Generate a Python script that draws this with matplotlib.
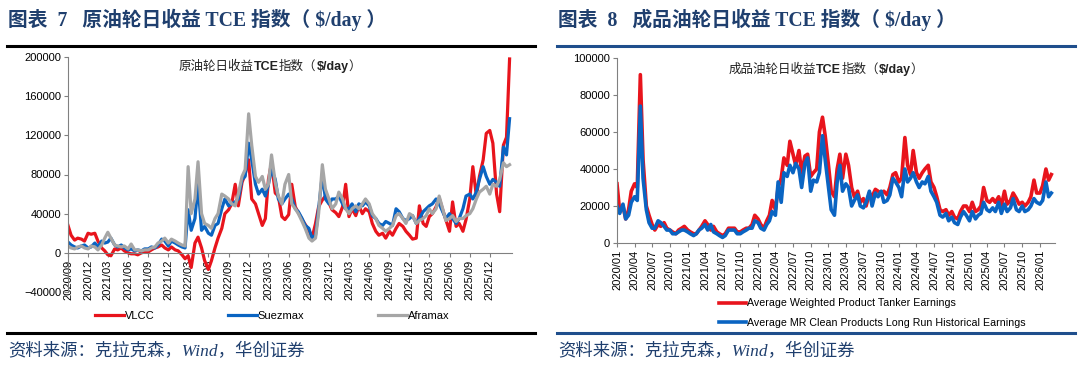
import numpy as np
import pandas as pd
import matplotlib
matplotlib.use('Agg')
import matplotlib.pyplot as plt
import matplotlib.dates as mdates
from matplotlib.lines import Line2D

plt.rcParams['font.family'] = ['Liberation Sans', 'Noto Sans CJK SC']

# ---------------- data (k$/day, semi-monthly: 1st and 15th) ----------------
crude_start, crude_end = '2020-09-01', '2026-03-01'
vlcc = ([28, 18, 13, 15, 14, 12, 20, 19] +
        [20, 12, 5, 2, -2, -3, 4, 3, 5, 2, 0, -1, -1, -2, 0, 1, 1, 3, 5, 6, 8, 5, 3, 6] +
        [3, 2, -2, -6, -3, -15, 10, 16, 5, -8, -17, -8, 5, 15, 25, 40, 44, 50, 70, 48, 72, 80, 95, 55] +
        [50, 40, 28, 35, 75, 92, 61, 58, 37, 34, 39, 70, 47, 41, 34, 29, 23, 15, 30, 47, 54, 58, 51, 44] +
        [41, 37, 47, 70, 37, 45, 38, 48, 40, 45, 42, 30, 22, 18, 20, 15, 22, 18, 25, 30, 27, 22, 18, 14] +
        [15, 48, 30, 27, 37, 40, 47, 56, 44, 34, 22, 52, 27, 30, 22, 34, 55, 88, 58, 78, 95, 122, 125, 112] +
        [60, 42, 110, 118, 198])
suezmax = ([11, 8, 6, 5, 7, 8, 5, 6] +
           [10, 6, 12, 10, 11, 15, 8, 6, 8, 5, 3, 4, 2, 3, 2, 4, 4, 6, 5, 8, 14, 12, 7, 12] +
           [10, 8, 6, 5, 44, 23, 35, 70, 23, 27, 20, 18, 28, 30, 45, 55, 48, 50, 52, 55, 75, 78, 112, 95] +
           [70, 60, 65, 58, 70, 85, 75, 55, 50, 55, 60, 55, 45, 42, 35, 28, 25, 15, 18, 45, 80, 55, 50, 55] +
           [55, 58, 50, 45, 45, 50, 42, 50, 48, 52, 48, 38, 35, 30, 28, 32, 30, 28, 45, 42, 35, 33, 35, 38] +
           [30, 35, 42, 45, 48, 50, 55, 50, 42, 35, 40, 35, 30, 35, 45, 58, 60, 55, 62, 75, 88, 78, 70, 75] +
           [72, 68, 108, 100, 137])
aframax = ([7, 5, 4, 6, 7, 5, 4, 7] +
           [6, 3, 8, 15, 21, 15, 8, 7, 6, 7, 4, 9, 3, 3, 2, 3, 3, 5, 6, 10, 12, 15, 10, 14] +
           [12, 10, 8, 7, 88, 40, 55, 93, 40, 30, 28, 25, 35, 40, 60, 58, 55, 50, 48, 60, 78, 85, 142, 110] +
           [78, 72, 78, 65, 70, 100, 72, 58, 50, 70, 80, 50, 45, 40, 32, 25, 15, 12, 15, 40, 90, 65, 55, 45] +
           [50, 62, 55, 45, 40, 45, 48, 45, 50, 55, 50, 40, 35, 28, 25, 22, 25, 28, 38, 40, 35, 30, 40, 38] +
           [30, 33, 35, 38, 45, 40, 45, 58, 45, 33, 35, 38, 32, 35, 35, 38, 40, 45, 55, 62, 65, 68, 60, 70] +
           [68, 75, 92, 88, 90])

product_start, product_end = '2020-01-01', '2026-03-01'
product_avg = ([32, 17, 20, 13, 18, 28, 32, 30, 91, 45, 20, 15, 10, 7, 10, 9, 11, 8, 7, 6, 5, 7, 8, 9] +
               [7, 6, 5, 5, 7, 9, 12, 10, 7, 9, 6, 5, 4, 5, 8, 8, 8, 6, 6, 7, 8, 8, 10, 15] +
               [13, 10, 8, 12, 15, 23, 18, 30, 35, 46, 42, 55, 48, 42, 50, 38, 47, 48, 36, 38, 40, 60, 68, 58] +
               [42, 28, 25, 40, 48, 35, 48, 42, 30, 25, 28, 22, 24, 20, 27, 25, 29, 28, 27, 28, 26, 30, 37, 38] +
               [33, 35, 57, 42, 37, 50, 38, 35, 38, 40, 42, 33, 30, 25, 18, 17, 18, 15, 17, 14, 13, 17, 20, 20] +
               [17, 22, 17, 18, 20, 30, 23, 22, 24, 22, 25, 20, 28, 21, 23, 27, 24, 21, 22, 20, 22, 25, 34, 27] +
               [27, 31, 40, 34, 37])
product_mr = ([20, 16, 21, 13, 15, 22, 25, 23, 74, 35, 18, 11, 8, 8, 12, 11, 9, 7, 7, 5, 5, 6, 7, 7] +
              [6, 5, 4, 5, 7, 8, 10, 7, 10, 6, 5, 4, 3, 4, 7, 7, 7, 5, 5, 6, 7, 8, 8, 12] +
              [11, 8, 7, 10, 12, 17, 15, 33, 22, 38, 36, 42, 38, 43, 40, 30, 43, 46, 28, 34, 33, 38, 58, 45] +
              [30, 18, 15, 33, 42, 28, 32, 30, 20, 23, 26, 20, 19, 22, 28, 20, 27, 25, 28, 22, 23, 26, 35, 33] +
              [30, 25, 40, 33, 35, 38, 33, 30, 33, 32, 36, 28, 25, 22, 15, 14, 16, 12, 14, 11, 10, 14, 17, 15] +
              [12, 17, 13, 15, 16, 22, 18, 17, 19, 17, 22, 16, 21, 17, 19, 24, 18, 17, 20, 17, 18, 20, 24, 22] +
              [21, 23, 33, 25, 27])

crude_dates = pd.date_range(crude_start, crude_end, freq='SMS')
product_dates = pd.date_range(product_start, product_end, freq='SMS')
crude_ticks = pd.date_range('2020-09-01', '2025-12-01', freq='3MS')
product_ticks = pd.date_range('2020-01-01', '2026-01-01', freq='3MS')

RED = '#e8141c'
BLUE = '#0a64c2'
GRAY = '#a6a6a6'
NAVY = '#1f3f6e'
TICK = 8

fig = plt.figure(figsize=(10.8, 3.65), dpi=100)


def fx(px):
    return px / 1080


def fy(py):
    return 1 - py / 365


def style_axes(ax):
    for s in ['top', 'right']:
        ax.spines[s].set_visible(False)
    for s in ['left', 'bottom']:
        ax.spines[s].set_color('#808080')
        ax.spines[s].set_linewidth(0.8)
    ax.tick_params(axis='both', labelsize=TICK, color='#808080', length=3, width=0.8, pad=2)
    ax.tick_params(axis='x', rotation=90)
    ax.xaxis.set_major_formatter(mdates.DateFormatter('%Y/%m'))


def inner_title(ax, parts, x, y, size):
    prev = None
    for txt, w in parts:
        if prev is None:
            prev = ax.text(x, y, txt, transform=ax.transAxes, fontsize=size, fontweight=w,
                           ha='left', va='baseline', color='#222222')
        else:
            prev = ax.annotate(txt, xy=(1, 0), xycoords=prev, fontsize=size, fontweight=w,
                               ha='left', va='bottom', color='#222222')


# ---------------- left: crude tankers ----------------
ax1 = fig.add_axes([fx(68), fy(292), fx(512 - 68), (292 - 57) / 365])
ax1.plot(crude_dates, np.array(vlcc) * 1000, color=RED, lw=2.3, label='VLCC')
ax1.plot(crude_dates, np.array(suezmax) * 1000, color=BLUE, lw=2.3, label='Suezmax')
ax1.plot(crude_dates, np.array(aframax) * 1000, color=GRAY, lw=2.3, label='Aframax')
ax1.set_ylim(-40000, 200000)
ax1.set_yticks(np.arange(-40000, 200001, 40000))
ax1.set_xlim(pd.Timestamp('2020-09-01'), pd.Timestamp('2026-03-12'))
ax1.set_xticks(crude_ticks)
ax1.spines['bottom'].set_position(('data', 0))
style_axes(ax1)
inner_title(ax1, [('原油轮日收益', 'normal'), ('TCE', 'bold'), ('指数（', 'normal'),
                  ('$/day', 'bold'), ('）', 'normal')], 0.25, 0.945, 9)
fig.legend(handles=ax1.get_lines(), loc='center', bbox_to_anchor=(fx(272), fy(316)), ncol=3,
           frameon=False, fontsize=TICK, handlelength=2.6, handletextpad=0.1, columnspacing=6.6)

# ---------------- right: product tankers ----------------
ax2 = fig.add_axes([fx(617), fy(243), fx(1055 - 617), (243 - 58) / 365])
ax2.plot(product_dates, np.array(product_avg) * 1000, color=RED, lw=2.6,
         label='Average Weighted Product Tanker Earnings')
ax2.plot(product_dates, np.array(product_mr) * 1000, color=BLUE, lw=2.6,
         label='Average MR Clean Products Long Run Historical Earnings')
ax2.set_ylim(0, 100000)
ax2.set_yticks(np.arange(0, 100001, 20000))
ax2.set_xlim(pd.Timestamp('2020-01-01'), pd.Timestamp('2026-03-20'))
ax2.set_xticks(product_ticks)
style_axes(ax2)
inner_title(ax2, [('成品油轮日收益', 'normal'), ('TCE', 'bold'), ('指数（', 'normal'),
                  ('$/day', 'bold'), ('）', 'normal')], 0.255, 0.92, 9)
fig.legend(handles=ax2.get_lines(), loc='center left', bbox_to_anchor=(fx(714), fy(313)), ncol=1,
           frameon=False, fontsize=7.7, handlelength=2.5, handletextpad=0.1, labelspacing=0.85,
           borderpad=0)

# ---------------- headers, rules, sources ----------------
title_font = ['Liberation Serif', 'Noto Sans CJK SC']
fig.text(fx(8), fy(20), '图表  7   原油轮日收益 TCE 指数（ $/day ）', family=title_font,
         fontsize=14.2, fontweight='bold', color=NAVY, va='center', ha='left')
fig.text(fx(558), fy(20), '图表  8   成品油轮日收益 TCE 指数（ $/day ）', family=title_font,
         fontsize=14.2, fontweight='bold', color=NAVY, va='center', ha='left')

for y in (46, 333):
    fig.add_artist(Line2D([fx(7), fx(535)], [fy(y), fy(y)], color='black', lw=2.2))
    fig.add_artist(Line2D([fx(557), fx(1075)], [fy(y), fy(y)], color='#1f4e8c', lw=2.2))

src = '资料来源：克拉克森，Wind，华创证券'
fig.text(fx(8), fy(352), src, family=title_font, fontsize=12.5, style='italic',
         color=NAVY, va='center', ha='left')
fig.text(fx(558), fy(352), src, family=title_font, fontsize=12.5, style='italic',
         color=NAVY, va='center', ha='left')

fig.savefig('out.png', dpi=100)
